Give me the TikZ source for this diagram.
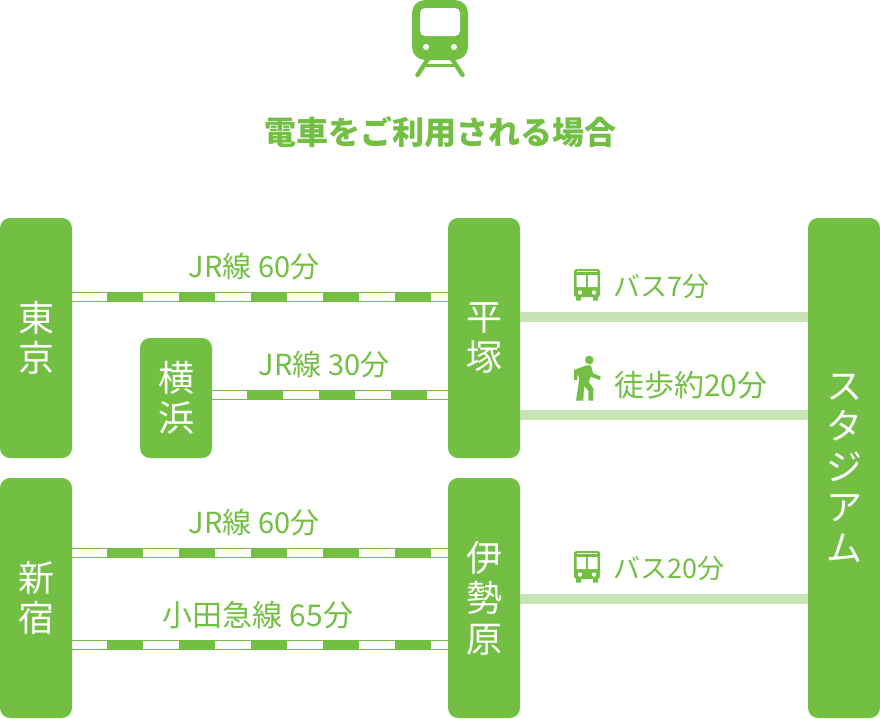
\documentclass[tikz,border=0pt]{standalone}
\usepackage{fontspec}
\setmainfont{Noto Sans CJK JP}
\usetikzlibrary{positioning}
\definecolor{mygreen}{HTML}{72BF44}
\definecolor{mypale}{HTML}{C7E5B4}
\tikzset{
  station/.style={ fill=mygreen, text=white, rounded corners=10pt, inner sep=0pt
                 , minimum width=72pt, minimum height=240pt, align=center
                 , font=\fontsize{36}{40.5}\selectfont },
  rail/.style={ draw=mygreen, line width=10pt
              , postaction={draw=white, line width=8pt}
              , postaction={draw=mygreen, line width=8pt, dash pattern=on 36pt off 36pt, dash phase=37pt} },
  walkway/.style={draw=mypale, line width=10pt},
  linelabel/.style={text=mygreen, inner sep=0pt, font=\fontsize{29}{32}\selectfont},
  buslabel/.style={linelabel, anchor=west, font=\fontsize{27}{30}\selectfont},
  busicon/.pic={
    \fill[mygreen, rounded corners=2.5pt] (-13,-16) rectangle (13,12);
    \fill[mygreen] (-11,10) rectangle (-6,15.5) (6,10) rectangle (11,15.5);
    \fill[white] (-10,-13.6) rectangle (10,-12.6);
    \fill[white] (-10.5,-10) rectangle (-1,2) (1,-10) rectangle (10.5,2);
    \fill[white] (-7,7.5) circle (2.2) (7,7.5) circle (2.2);
  },
  walkicon/.pic={
    \fill[mygreen] (2.3,-18) circle (4.3);
    \fill[mygreen] (-13,-8) -- (-0.3,-12.7) -- (3.7,-12.7) -- (6.3,-4.7) -- (13.7,-1.3) -- (13,2)
      -- (3.7,-1.3) -- (1.7,4) -- (6.3,10.3) -- (6.3,22.7) -- (1.3,22.7) -- (1.3,12.7) -- (-3,8)
      -- (-3.7,22.7) -- (-11,22.7) -- (-7.7,0.3) -- (-9.7,-4.7) -- (-9.7,2) -- (-13,2) -- cycle;
  }
}
\begin{document}
\begin{tikzpicture}[x=1pt,y=-1pt]
  \useasboundingbox (0,0) rectangle (880,718);

  % train icon
  \draw[mygreen, line width=4.5pt, line cap=round] (428,59) -- (417.5,75) (452,59) -- (462.5,75);
  \draw[mygreen, line width=3.5pt] (423,65.5) -- (457,65.5);
  \fill[mygreen, rounded corners=13pt] (412,0) rectangle (468,60);
  \fill[white, rounded corners=5pt] (420,8) rectangle (460,36);
  \fill[white] (426,47) circle (3) (454,47) circle (3);

  \node[ text=mygreen, inner sep=0pt, font=\fontsize{32}{36}\bfseries\selectfont ] (title) at (440,132)
  {電車をご利用される場合};

  \node[station] (tokyo) at (36,338) {東\\京};
  \node[station, minimum height=120pt] (yokohama) at (176,398) {横\\浜};
  \node[station] (shinjuku) at (36,598) {新\\宿};
  \node[station] (hiratsuka) at (484,338) {平\\塚};
  \node[station] (isehara) at (484,598) {伊\\勢\\原};
  \node[station, minimum height=500pt] (stadium) at (844,468) {ス\\タ\\ジ\\ア\\ム};

  \draw[rail] ([yshift=41pt]tokyo.east) -- ([yshift=41pt]hiratsuka.west);
  \draw[rail] ([yshift=3pt]yokohama.east) -- ([yshift=-57pt]hiratsuka.west);
  \draw[rail] ([yshift=45pt]shinjuku.east) -- ([yshift=45pt]isehara.west);
  \draw[rail] ([yshift=-47pt]shinjuku.east) -- ([yshift=-47pt]isehara.west);

  \draw[walkway] ([yshift=21pt]hiratsuka.east) -- ([yshift=21pt]hiratsuka.east -| stadium.west);
  \draw[walkway] ([yshift=-77pt]hiratsuka.east) -- ([yshift=-77pt]hiratsuka.east -| stadium.west);
  \draw[walkway] ([yshift=-1pt]isehara.east) -- ([yshift=-1pt]isehara.east -| stadium.west);

  \node[linelabel] (jr1) at (254,267) {JR線 60分};
  \node[linelabel] (jr2) at (324,365) {JR線 30分};
  \node[linelabel] (jr3) at (254,523) {JR線 60分};
  \node[linelabel, font=\fontsize{30}{33}\selectfont] (oer) at (258,615) {小田急線 65分};

  \pic at (587,285) {busicon};
  \pic at (587,378) {walkicon};
  \pic at (587,567) {busicon};
  \node[buslabel] (bus1) at (613,287) {バス7分};
  \node[buslabel, font=\fontsize{30}{33}\selectfont] (walk) at (614,385) {徒歩約20分};
  \node[buslabel] (bus2) at (613,569) {バス20分};
\end{tikzpicture}
\end{document}
